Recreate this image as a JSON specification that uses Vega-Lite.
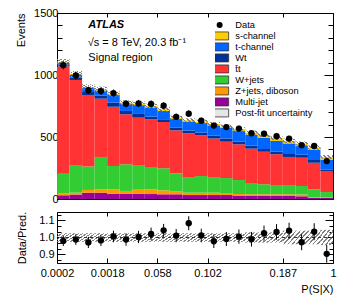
{
  "$schema": "https://vega.github.io/schema/vega-lite/v6.json",
  "padding": {"left": 15, "top": 6, "right": 5, "bottom": 4},
  "background": "white",
  "datasets": {
    "bins": [
      {"lo":0,"hi":1,"c":0.5,"mj":30,"z":14,"w":160,"tt":865,"wt":16,"t":12,"s":4,"ulo":1073,"uhi":1129,"d":1079,"dlo":1046,"dhi":1112,"r":0.98,"rdlo":0.95,"rdhi":1.01,"rlo":0.975,"rhi":1.025},
      {"lo":1,"hi":2,"c":1.5,"mj":36,"z":15,"w":223,"tt":686,"wt":20,"t":20,"s":8,"ulo":983,"uhi":1033,"d":996,"dlo":964,"dhi":1028,"r":0.988,"rdlo":0.957,"rdhi":1.019,"rlo":0.975,"rhi":1.025},
      {"lo":2,"hi":3,"c":2.5,"mj":51,"z":22,"w":189,"tt":574,"wt":27,"t":32,"s":8,"ulo":880,"uhi":926,"d":877,"dlo":847,"dhi":907,"r":0.971,"rdlo":0.938,"rdhi":1.004,"rlo":0.975,"rhi":1.025},
      {"lo":3,"hi":4,"c":3.5,"mj":51,"z":27,"w":261,"tt":470,"wt":26,"t":40,"s":10,"ulo":863,"uhi":907,"d":870,"dlo":840,"dhi":900,"r":0.983,"rdlo":0.95,"rdhi":1.016,"rlo":0.975,"rhi":1.025},
      {"lo":4,"hi":5,"c":4.5,"mj":43,"z":35,"w":188,"tt":478,"wt":34,"t":61,"s":10,"ulo":828,"uhi":870,"d":854,"dlo":825,"dhi":883,"r":1.006,"rdlo":0.972,"rdhi":1.04,"rlo":0.975,"rhi":1.025},
      {"lo":5,"hi":6,"c":5.5,"mj":43,"z":22,"w":215,"tt":403,"wt":27,"t":60,"s":7,"ulo":758,"uhi":796,"d":768,"dlo":740,"dhi":796,"r":0.988,"rdlo":0.952,"rdhi":1.024,"rlo":0.975,"rhi":1.025},
      {"lo":6,"hi":7,"c":6.5,"mj":43,"z":32,"w":199,"tt":382,"wt":30,"t":72,"s":11,"ulo":750,"uhi":788,"d":771,"dlo":743,"dhi":799,"r":1.003,"rdlo":0.967,"rdhi":1.039,"rlo":0.975,"rhi":1.025},
      {"lo":7,"hi":8,"c":7.5,"mj":40,"z":38,"w":180,"tt":385,"wt":22,"t":73,"s":12,"ulo":731,"uhi":769,"d":766,"dlo":738,"dhi":794,"r":1.021,"rdlo":0.984,"rdhi":1.058,"rlo":0.975,"rhi":1.025},
      {"lo":8,"hi":9,"c":8.5,"mj":38,"z":32,"w":178,"tt":373,"wt":22,"t":67,"s":13,"ulo":705,"uhi":741,"d":753,"dlo":726,"dhi":780,"r":1.042,"rdlo":1.004,"rdhi":1.08,"rlo":0.975,"rhi":1.025},
      {"lo":9,"hi":10,"c":9.5,"mj":38,"z":22,"w":147,"tt":347,"wt":23,"t":68,"s":11,"ulo":640,"uhi":672,"d":663,"dlo":637,"dhi":689,"r":1.011,"rdlo":0.972,"rdhi":1.05,"rlo":0.975,"rhi":1.025},
      {"lo":10,"hi":11,"c":10.5,"mj":32,"z":19,"w":126,"tt":353,"wt":22,"t":73,"s":10,"ulo":619,"uhi":651,"d":688,"dlo":662,"dhi":714,"r":1.084,"rdlo":1.043,"rdhi":1.125,"rlo":0.975,"rhi":1.025},
      {"lo":11,"hi":12,"c":11.5,"mj":32,"z":19,"w":134,"tt":329,"wt":22,"t":77,"s":10,"ulo":607,"uhi":639,"d":631,"dlo":606,"dhi":656,"r":1.012,"rdlo":0.972,"rdhi":1.052,"rlo":0.975,"rhi":1.025},
      {"lo":12,"hi":13,"c":12.5,"mj":32,"z":19,"w":126,"tt":311,"wt":24,"t":81,"s":12,"ulo":590,"uhi":620,"d":592,"dlo":568,"dhi":616,"r":0.978,"rdlo":0.938,"rdhi":1.018,"rlo":0.975,"rhi":1.025},
      {"lo":13,"hi":14,"c":13.5,"mj":32,"z":16,"w":121,"tt":293,"wt":26,"t":85,"s":12,"ulo":570,"uhi":600,"d":580,"dlo":556,"dhi":604,"r":0.991,"rdlo":0.95,"rdhi":1.032,"rlo":0.975,"rhi":1.025},
      {"lo":14,"hi":15,"c":14.5,"mj":28,"z":12,"w":113,"tt":288,"wt":23,"t":84,"s":17,"ulo":551,"uhi":579,"d":568,"dlo":544,"dhi":592,"r":1.005,"rdlo":0.963,"rdhi":1.047,"rlo":0.975,"rhi":1.025},
      {"lo":15,"hi":16,"c":15.5,"mj":28,"z":10,"w":85,"tt":283,"wt":24,"t":86,"s":19,"ulo":519,"uhi":551,"d":530,"dlo":507,"dhi":553,"r":0.99,"rdlo":0.947,"rdhi":1.033,"rlo":0.97,"rhi":1.03},
      {"lo":16,"hi":17,"c":16.5,"mj":24,"z":14,"w":81,"tt":262,"wt":22,"t":89,"s":22,"ulo":499,"uhi":529,"d":527,"dlo":504,"dhi":550,"r":1.025,"rdlo":0.98,"rdhi":1.07,"rlo":0.97,"rhi":1.03},
      {"lo":17,"hi":18,"c":17.5,"mj":24,"z":14,"w":75,"tt":248,"wt":22,"t":85,"s":22,"ulo":475,"uhi":505,"d":506,"dlo":484,"dhi":529,"r":1.033,"rdlo":0.987,"rdhi":1.079,"rlo":0.97,"rhi":1.03},
      {"lo":18,"hi":19,"c":18.5,"mj":24,"z":14,"w":75,"tt":226,"wt":24,"t":85,"s":20,"ulo":449,"uhi":487,"d":487,"dlo":465,"dhi":509,"r":1.04,"rdlo":0.993,"rdhi":1.087,"rlo":0.96,"rhi":1.04},
      {"lo":19,"hi":20,"c":19.5,"mj":22,"z":14,"w":69,"tt":228,"wt":24,"t":70,"s":19,"ulo":428,"uhi":464,"d":434,"dlo":413,"dhi":455,"r":0.972,"rdlo":0.925,"rdhi":1.019,"rlo":0.96,"rhi":1.04},
      {"lo":20,"hi":21,"c":20.5,"mj":10,"z":6,"w":62,"tt":215,"wt":22,"t":80,"s":19,"ulo":397,"uhi":431,"d":428,"dlo":407,"dhi":449,"r":1.034,"rdlo":0.984,"rdhi":1.084,"rlo":0.96,"rhi":1.04},
      {"lo":21,"hi":22,"c":21.5,"mj":10,"z":6,"w":40,"tt":170,"wt":12,"t":77,"s":24,"ulo":324,"uhi":354,"d":306,"dlo":289,"dhi":324,"r":0.904,"rdlo":0.852,"rdhi":0.956,"rlo":0.955,"rhi":1.045}
    ],
    "procs": [
      {"key":"mj","p":"Multi-jet","o":1},
      {"key":"z","p":"Z+jets, diboson","o":2},
      {"key":"w","p":"W+jets","o":3},
      {"key":"tt","p":"t\u0304t","o":4},
      {"key":"wt","p":"Wt","o":5},
      {"key":"t","p":"t-channel","o":6},
      {"key":"s","p":"s-channel","o":7}
    ]
  },
  "data": {"name": "bins"},
  "spacing": 5,
  "vconcat": [
    {
      "width": 276,
      "height": 186,
      "layer": [
        {
          "transform": [
            {"fold": ["mj","z","w","tt","wt","t","s"], "as": ["key","n"]},
            {"lookup": "key", "from": {"data": {"name": "procs"}, "key": "key", "fields": ["p","o"]}},
            {"stack": "n", "groupby": ["lo"], "sort": [{"field": "o", "order": "ascending"}], "as": ["y0","y1"]}
          ],
          "mark": {"type": "bar", "strokeWidth": 0},
          "encoding": {
            "x": {"field": "lo", "type": "quantitative", "scale": {"domain": [0,22], "nice": false, "zero": false},
                  "axis": {"orient": "bottom", "values": [0,4,8,12,18,22], "labels": false, "title": null, "tickSize": -4}},
            "x2": {"field": "hi"},
            "y": {"field": "y0", "type": "quantitative", "scale": {"domain": [0,1500], "nice": false},
                  "axis": {"orient": "left", "title": "Events", "titleAnchor": "end", "titlePadding": 7, "format": "d",
                           "values": [0,100,200,300,400,500,600,700,800,900,1000,1100,1200,1300,1400,1500],
                           "labelExpr": "datum.value % 500 === 0 ? datum.label : ''",
                           "tickSize": {"condition": {"test": "datum.value % 500 === 0", "value": -9}, "value": -5},
                           "labelPadding": 8}},
            "y2": {"field": "y1"},
            "color": {"field": "p", "type": "nominal",
                      "scale": {"domain": ["Data","s-channel","t-channel","Wt","t\u0304t","W+jets","Z+jets, diboson","Multi-jet","Post-fit uncertainty"],
                                "range": ["#000000","#ffcc00","#0066ff","#003399","#ff3333","#33cc33","#ff9900","#990099","#e6e6e6"]},
                      "legend": {"orient": "none", "legendX": 158, "legendY": 7, "title": null, "labelFontSize": 9.3, "labelFont": "Liberation Sans", "labelColor": "#000",
                                 "symbolSize": 64, "padding": 0, "rowPadding": 0, "clipHeight": 9.85, "labelOffset": 11, "symbolStrokeWidth": 0.8, "symbolStrokeColor": "#333",
                                 "encode": {"symbols": {"update": {
                                   "shape": {"signal": "datum.value === 'Data' ? 'circle' : 'M-2.25,-1H2.25V1H-2.25Z'"},
                                   "size": {"signal": "datum.value === 'Data' ? 36 : 64"},
                                   "stroke": {"signal": "datum.value === 'Data' ? 'transparent' : '#333'"}
                                 }}}}}
          }
        },
        {
          "mark": {"type": "bar", "fill": {"gradient": "linear", "x1": 0, "y1": 0, "x2": 1, "y2": 1, "stops": [
            {"offset":0,"color":"#808080"},{"offset":0.067,"color":"#808080"},{"offset":0.067,"color":"rgba(255,255,255,0)"},{"offset":0.167,"color":"rgba(255,255,255,0)"},
            {"offset":0.167,"color":"#808080"},{"offset":0.233,"color":"#808080"},{"offset":0.233,"color":"rgba(255,255,255,0)"},{"offset":0.333,"color":"rgba(255,255,255,0)"},
            {"offset":0.333,"color":"#808080"},{"offset":0.4,"color":"#808080"},{"offset":0.4,"color":"rgba(255,255,255,0)"},{"offset":0.5,"color":"rgba(255,255,255,0)"},
            {"offset":0.5,"color":"#808080"},{"offset":0.567,"color":"#808080"},{"offset":0.567,"color":"rgba(255,255,255,0)"},{"offset":0.667,"color":"rgba(255,255,255,0)"},
            {"offset":0.667,"color":"#808080"},{"offset":0.733,"color":"#808080"},{"offset":0.733,"color":"rgba(255,255,255,0)"},{"offset":0.833,"color":"rgba(255,255,255,0)"},
            {"offset":0.833,"color":"#808080"},{"offset":0.9,"color":"#808080"},{"offset":0.9,"color":"rgba(255,255,255,0)"},{"offset":1,"color":"rgba(255,255,255,0)"}]}},
          "encoding": {
            "x": {"field": "lo", "type": "quantitative", "axis": {"orient": "top", "values": [0,4,8,12,18,22], "labels": false, "title": null, "tickSize": -4}},
            "x2": {"field": "hi"},
            "y": {"field": "ulo", "type": "quantitative", "axis": null},
            "y2": {"field": "uhi"}
          }
        },
        {
          "mark": {"type": "rule", "color": "#000", "strokeWidth": 1},
          "encoding": {
            "x": {"field": "c", "type": "quantitative", "axis": null},
            "y": {"field": "dlo", "type": "quantitative", "axis": null},
            "y2": {"field": "dhi"}
          }
        },
        {
          "mark": {"type": "circle", "size": 40, "color": "#000", "opacity": 1},
          "encoding": {
            "x": {"field": "c", "type": "quantitative", "axis": null},
            "y": {"field": "d", "type": "quantitative",
                  "axis": {"orient": "right", "title": null, "labels": false,
                           "values": [0,100,200,300,400,500,600,700,800,900,1000,1100,1200,1300,1400,1500],
                           "tickSize": {"condition": {"test": "datum.value % 500 === 0", "value": -9}, "value": -5}}}
          }
        },
        {
          "data": {"values": [{}]},
          "mark": {"type": "text", "text": "ATLAS", "align": "left", "baseline": "middle", "fontSize": 11, "fontStyle": "italic", "fontWeight": "bold", "font": "Liberation Sans"},
          "encoding": {"x": {"datum": 2.5, "type": "quantitative", "axis": null}, "y": {"datum": 1403, "type": "quantitative", "axis": null}}
        },
        {
          "data": {"values": [{}]},
          "mark": {"type": "text", "text": "\u221As = 8 TeV, 20.3 fb\u207B\u00B9", "align": "left", "baseline": "middle", "fontSize": 11, "font": "Liberation Sans"},
          "encoding": {"x": {"datum": 2.45, "type": "quantitative", "axis": null}, "y": {"datum": 1261, "type": "quantitative", "axis": null}}
        },
        {
          "data": {"values": [{}]},
          "mark": {"type": "text", "text": "Signal region", "align": "left", "baseline": "middle", "fontSize": 11, "font": "Liberation Sans"},
          "encoding": {"x": {"datum": 2.5, "type": "quantitative", "axis": null}, "y": {"datum": 1135, "type": "quantitative", "axis": null}}
        }
      ]
    },
    {
      "width": 276,
      "height": 51,
      "layer": [
        {
          "mark": {"type": "bar", "clip": true, "fill": {"gradient": "linear", "x1": 0, "y1": 0, "x2": 1, "y2": 1, "stops": [
            {"offset":0,"color":"#808080"},{"offset":0.067,"color":"#808080"},{"offset":0.067,"color":"rgba(255,255,255,0)"},{"offset":0.167,"color":"rgba(255,255,255,0)"},
            {"offset":0.167,"color":"#808080"},{"offset":0.233,"color":"#808080"},{"offset":0.233,"color":"rgba(255,255,255,0)"},{"offset":0.333,"color":"rgba(255,255,255,0)"},
            {"offset":0.333,"color":"#808080"},{"offset":0.4,"color":"#808080"},{"offset":0.4,"color":"rgba(255,255,255,0)"},{"offset":0.5,"color":"rgba(255,255,255,0)"},
            {"offset":0.5,"color":"#808080"},{"offset":0.567,"color":"#808080"},{"offset":0.567,"color":"rgba(255,255,255,0)"},{"offset":0.667,"color":"rgba(255,255,255,0)"},
            {"offset":0.667,"color":"#808080"},{"offset":0.733,"color":"#808080"},{"offset":0.733,"color":"rgba(255,255,255,0)"},{"offset":0.833,"color":"rgba(255,255,255,0)"},
            {"offset":0.833,"color":"#808080"},{"offset":0.9,"color":"#808080"},{"offset":0.9,"color":"rgba(255,255,255,0)"},{"offset":1,"color":"rgba(255,255,255,0)"}]}},
          "encoding": {
            "x": {"field": "lo", "type": "quantitative", "scale": {"domain": [0,22], "nice": false, "zero": false},
                  "axis": {"orient": "bottom", "values": [0,4,8,12,18,22], "labelFlush": false, "tickSize": -5, "labelPadding": 9,
                           "labelExpr": "datum.value == 0 ? '0.0002' : datum.value == 4 ? '0.0018' : datum.value == 8 ? '0.058' : datum.value == 12 ? '0.102' : datum.value == 18 ? '0.187' : '1'",
                           "title": "P(S|X)", "titleAnchor": "end", "titlePadding": 5}},
            "x2": {"field": "hi"},
            "y": {"field": "rlo", "type": "quantitative", "scale": {"domain": [0.85,1.15], "nice": false, "zero": false},
                  "axis": {"orient": "left", "title": "Data/Pred.", "titlePadding": 11,
                           "values": [0.8667,0.9,0.9333,0.9667,1,1.0333,1.0667,1.1,1.1333],
                           "labelExpr": "abs(datum.value-0.9)<0.001 || abs(datum.value-1)<0.001 || abs(datum.value-1.1)<0.001 ? format(datum.value,'.1f') : ''",
                           "tickSize": {"condition": {"test": "abs(datum.value-0.9)<0.001 || abs(datum.value-1)<0.001 || abs(datum.value-1.1)<0.001", "value": -8}, "value": -4},
                           "labelPadding": 11}},
            "y2": {"field": "rhi"}
          }
        },
        {
          "data": {"values": [{}]},
          "mark": {"type": "rule", "color": "#333", "strokeDash": [3,3], "strokeWidth": 1},
          "encoding": {"y": {"datum": 1, "type": "quantitative", "axis": null}}
        },
        {
          "mark": {"type": "rule", "color": "#000", "strokeWidth": 1, "clip": true},
          "encoding": {
            "x": {"field": "c", "type": "quantitative", "axis": null},
            "y": {"field": "rdlo", "type": "quantitative", "axis": null},
            "y2": {"field": "rdhi"}
          }
        },
        {
          "mark": {"type": "circle", "size": 40, "color": "#000", "opacity": 1, "clip": true},
          "encoding": {
            "x": {"field": "c", "type": "quantitative", "axis": {"orient": "top", "values": [0,4,8,12,18,22], "labels": false, "title": null, "tickSize": -4}},
            "y": {"field": "r", "type": "quantitative",
                  "axis": {"orient": "right", "title": null, "labels": false,
                           "values": [0.8667,0.9,0.9333,0.9667,1,1.0333,1.0667,1.1,1.1333],
                           "tickSize": {"condition": {"test": "abs(datum.value-0.9)<0.001 || abs(datum.value-1)<0.001 || abs(datum.value-1.1)<0.001", "value": -8}, "value": -4}}}
          }
        }
      ]
    }
  ],
  "config": {
    "font": "Liberation Sans",
    "view": {"stroke": "#000", "strokeWidth": 1},
    "axis": {"domain": false, "grid": false, "labelFontSize": 11, "titleFontSize": 11, "titleFontWeight": "normal",
             "labelColor": "#000", "titleColor": "#000", "tickColor": "#000", "tickWidth": 1,
             "labelFont": "Liberation Sans", "titleFont": "Liberation Sans"}
  }
}
